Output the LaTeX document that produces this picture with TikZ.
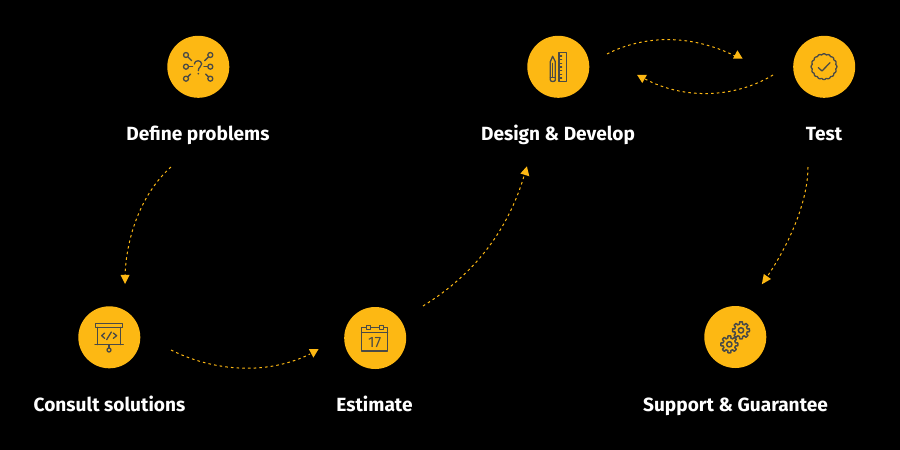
\documentclass[tikz,border=0pt]{standalone}
\usepackage{fontspec}
\setmainfont{Fira Sans}
\definecolor{amber}{HTML}{FDB813}
\definecolor{inkline}{HTML}{4A4A46}
\tikzset{
  disc/.style={circle,fill=amber,draw=none,minimum size=62pt,inner sep=0pt},
  caption/.style={text=white,font=\fontsize{19.1}{22}\selectfont\bfseries,inner sep=0pt,anchor=base},
  flow/.style={draw=amber,line width=1pt,dash pattern=on 2.6pt off 3.1pt},
  head/.style={fill=amber,draw=none},
  icon/.style={draw=inkline,line width=1.3pt,line cap=round,line join=round},
  iconzoom/.style={x=1pt,y=-1pt,scale=1/3}
}
\newcommand{\gearshape}[5]{% cx cy outer inner hole
  \draw[icon,line width=1.5pt] plot[domain=0:360,samples=193,variable=\t]
    ({#1+(#4+(#3-#4)*max(0,min(1,1.8*cos(8*\t)+0.6)))*cos(\t)},{#2+(#4+(#3-#4)*max(0,min(1,1.8*cos(8*\t)+0.6)))*sin(\t)}) -- cycle;
  \draw[icon,line width=1.5pt] (#1,#2) circle (#5);
}
\begin{document}
\begin{tikzpicture}[x=1pt,y=-1pt]
\fill[black] (0,0) rectangle (900,450);
\useasboundingbox (0,0) rectangle (900,450);

\node[disc] (d1) at (198.3,66.8) {};
\node[disc] (d2) at (109.3,337.3) {};
\node[disc] (d3) at (375.2,338) {};
\node[disc] (d4) at (558.3,66.8) {};
\node[disc] (d5) at (824.2,66.8) {};
\node[disc] (d6) at (735.3,337) {};

\node[caption] (t1) at (198,140.2) {Define problems};
\node[caption] (t2) at (109.5,411.2) {Consult solutions};
\node[caption] (t3) at (374.5,411.2) {Estimate};
\node[caption] (t4) at (558,140.2) {Design \& Develop};
\node[caption] (t5) at (824,140.2) {Test};
\node[caption] (t6) at (735.5,411.2) {Support \& Guarantee};

% connector ends
\coordinate (a1s) at (171,167); \coordinate (a1e) at (125,275);
\coordinate (a2s) at (171,350); \coordinate (a2e) at (310,354);
\coordinate (a3s) at (423,306); \coordinate (a3e) at (524,176);
\coordinate (a4s) at (607,54);  \coordinate (a4e) at (735,56);
\coordinate (a5s) at (773,75);  \coordinate (a5e) at (645,79);
\coordinate (a6s) at (808,167); \coordinate (a6e) at (767,277);

\draw[flow] (a1s) .. controls (145,190) and (127,230) .. (a1e);
\draw[flow] (a2s) .. controls (215,372) and (268,375) .. (a2e);
\draw[flow] (a3s) .. controls (465,280) and (505,240) .. (a3e);
\draw[flow] (a4s) .. controls (645,34.5) and (692,34.5) .. (a4e);
\draw[flow] (a5s) .. controls (735,98) and (685,100) .. (a5e);
\draw[flow] (a6s) .. controls (808,195) and (795,235) .. (a6e);

% arrowheads
\fill[head] (120.5,274.8) -- (129.7,274.8) -- (125,284) -- cycle;
\fill[head] (308.8,349) -- (318.6,349) -- (313.4,357.6) -- cycle;
\fill[head] (526.9,166.3) -- (520.4,173.5) -- (529.3,176.3) -- cycle;
\fill[head] (737.4,50.3) -- (733,58.5) -- (742.6,58.5) -- cycle;
\fill[head] (637,74.8) -- (647,74.8) -- (642.3,83) -- cycle;
\fill[head] (763.8,274) -- (771,279) -- (761.8,284.3) -- cycle;

% icon: question network
\begin{scope}[shift={(150,30)},iconzoom]
  \foreach \x/\y in {108/75,108/110,108/146,181/75,181/110,181/146} \draw[icon] (\x,\y) circle (7.5);
  \draw[icon] (114,81) -- (125,92);
  \draw[icon] (116,110) -- (128,110);
  \draw[icon] (114,140) -- (122,132);
  \draw[icon] (175,81) -- (164,92);
  \draw[icon] (173,110) -- (162,110);
  \draw[icon] (175,140) -- (167,132);
  \draw[icon] (133,102) .. controls (134,88) and (155,90) .. (155,102) .. controls (155,112) and (145,110) .. (145,122);
  \fill[inkline] (145,131) circle (2.8);
\end{scope}

% icon: presentation screen
\begin{scope}[shift={(60,295)},iconzoom]
  \draw[icon] (106,85) rectangle (188,97);
  \draw[icon] (113,97) -- (113,149);
  \draw[icon] (181,97) -- (181,149);
  \draw[icon] (105,149) -- (190,149);
  \draw[icon] (147,149) -- (147,158);
  \draw[icon] (147,165) circle (6);
  \draw[icon] (134,114) -- (125,122) -- (134,130);
  \draw[icon] (160,114) -- (170,122) -- (160,130);
  \draw[icon] (154,111) -- (140,134);
\end{scope}

% icon: calendar
\begin{scope}[shift={(325,295)},iconzoom]
  \draw[icon] (110,97) rectangle (188,168);
  \draw[icon] (110,113) -- (188,113);
  \filldraw[icon,fill=amber] (124,91) rectangle (136,104);
  \filldraw[icon,fill=amber] (164,91) rectangle (176,104);
  \node[text=inkline,font=\fontsize{15}{15}\selectfont,inner sep=0pt] (cal) at (149,142) {17};
\end{scope}

% icon: pencil and ruler
\begin{scope}[shift={(510,30)},iconzoom]
  \draw[icon] (121,95) -- (128,79) -- (136,95);
  \draw[icon] (121,95) -- (121,150) .. controls (121,156) and (136,156) .. (136,150) -- (136,95);
  \draw[icon] (128,100) -- (128,140);
  \draw[icon] (121,142) -- (136,142);
  \draw[icon] (147,67) rectangle (170,155);
  \foreach \y in {78,89,100,111,122,133,144} \draw[icon] (147,\y) -- (155,\y);
\end{scope}

% icon: check badge
\begin{scope}[shift={(775,30)},iconzoom]
  \draw[icon] plot[domain=0:360,samples=145,smooth,variable=\t]
    ({147+(35.5+3.2*abs(cos(8*\t)))*cos(\t)},{110+(35.5+3.2*abs(cos(8*\t)))*sin(\t)}) -- cycle;
  \draw[icon] (130,113) -- (141,123) -- (165,98);
\end{scope}

% icon: gears
\begin{scope}[shift={(685,295)},iconzoom]
  \gearshape{168}{106}{25.5}{19}{8}
  \gearshape{133}{148}{25.5}{19}{8}
\end{scope}
\end{tikzpicture}
\end{document}
